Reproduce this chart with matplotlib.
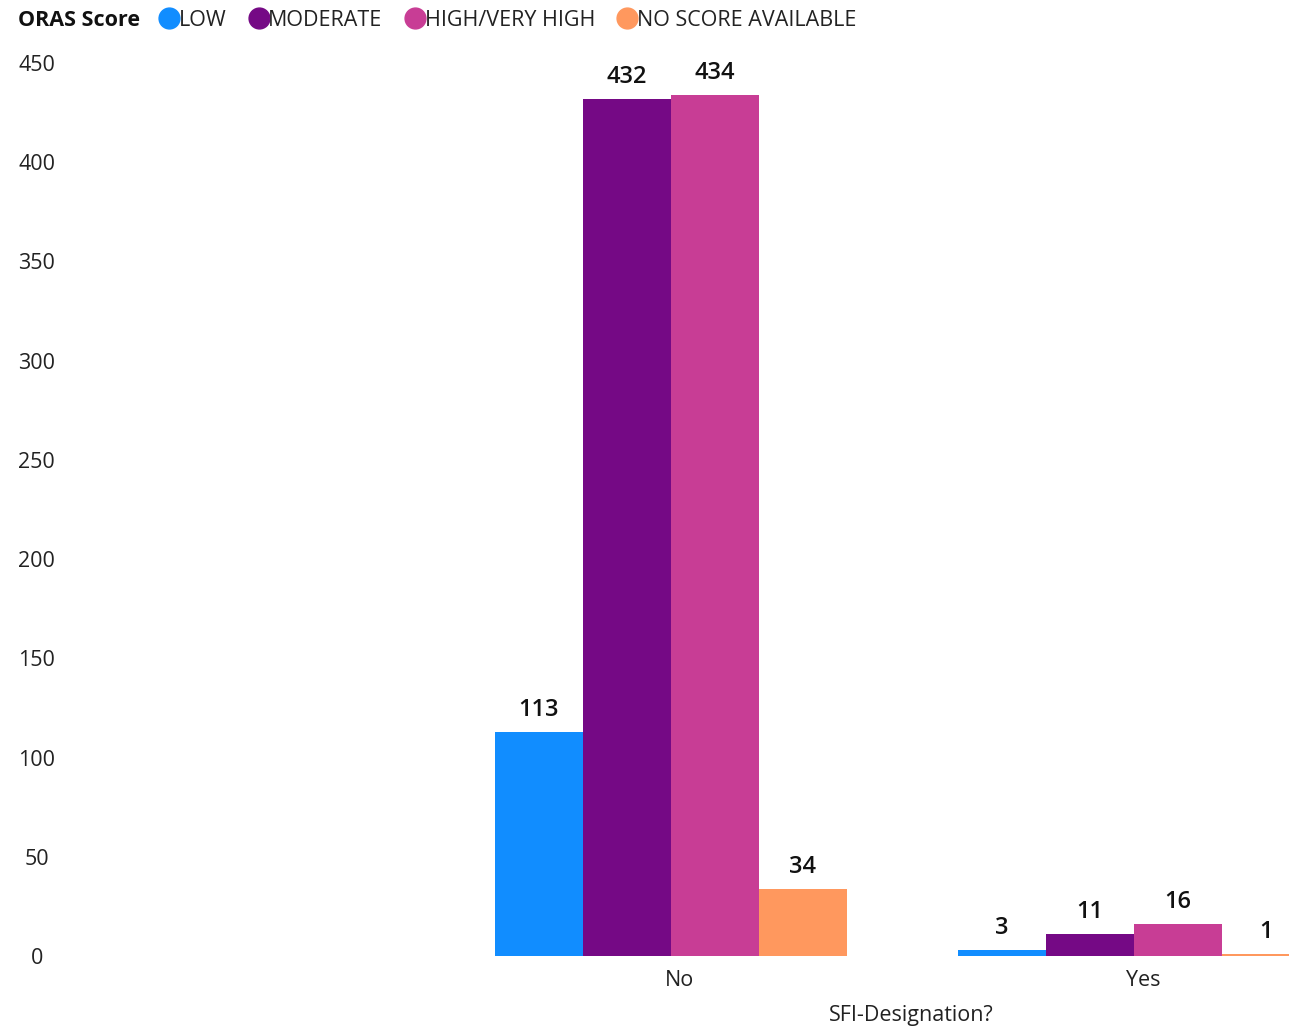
import matplotlib.pyplot as plt
from matplotlib.lines import Line2D
import numpy as np

plt.rcParams['font.family'] = ['Open Sans', 'DejaVu Sans']

categories = ["No", "Yes"]
series = ["LOW", "MODERATE", "HIGH/VERY HIGH", "NO SCORE AVAILABLE"]
low = [113, 3]
moderate = [432, 11]
high = [434, 16]
no_score = [34, 1]
colors = ["#118DFF", "#750985", "#C83D95", "#FF985E"]

W, H = 1289, 1031
fig = plt.figure(figsize=(W / 100, H / 100), dpi=100)
ax = fig.add_axes([70 / W, 1 - 956 / H, 1 - 70 / W, (956 - 63) / H])

x = np.arange(1, len(categories) + 1)  # position 0 is an empty category
bw = 0.19
for i, (vals, c) in enumerate(zip([low, moderate, high, no_score], colors)):
    pos = x + (i - 1.5) * bw
    ax.bar(pos, vals, width=bw, color=c)
    for p, v in zip(pos, vals):
        ax.text(p, v + 5, str(v), ha='center', va='bottom', fontsize=17,
                fontweight='semibold', color='#111111')

ax.set_xlim(-0.296, 2.334)
ax.set_ylim(0, 450)
ax.set_yticks(range(0, 451, 50))
ax.set_xticks(x + 0.02)
ax.set_xticklabels(categories)
for s in ax.spines.values():
    s.set_visible(False)
ax.tick_params(axis='both', length=0, labelsize=15.5, colors='#222222')
ax.tick_params(axis='x', pad=10)
ax.tick_params(axis='y', pad=24)
for t in ax.get_yticklabels():
    t.set_horizontalalignment('center')

fig.text(911 / W, 1 - 1015 / H, "SFI-Designation?", ha='center', va='center',
         fontsize=15.5, color='#222222')

fig.text(18 / W, 1 - 20 / H, "ORAS Score", ha='left', va='center',
         fontsize=15.5, fontweight='bold', color='#111111')
handles = [Line2D([], [], marker='o', linestyle='none', markersize=15,
                  markerfacecolor=c, markeredgecolor=c) for c in colors]
fig.legend(handles, series, loc='center left', bbox_to_anchor=(156 / W, 1 - 20 / H),
           ncol=4, frameon=False, fontsize=15.5, handletextpad=-0.15,
           columnspacing=0.9, borderaxespad=0, borderpad=0, handlelength=1.2,
           labelcolor='#222222')

fig.savefig("out.png", dpi=100)
